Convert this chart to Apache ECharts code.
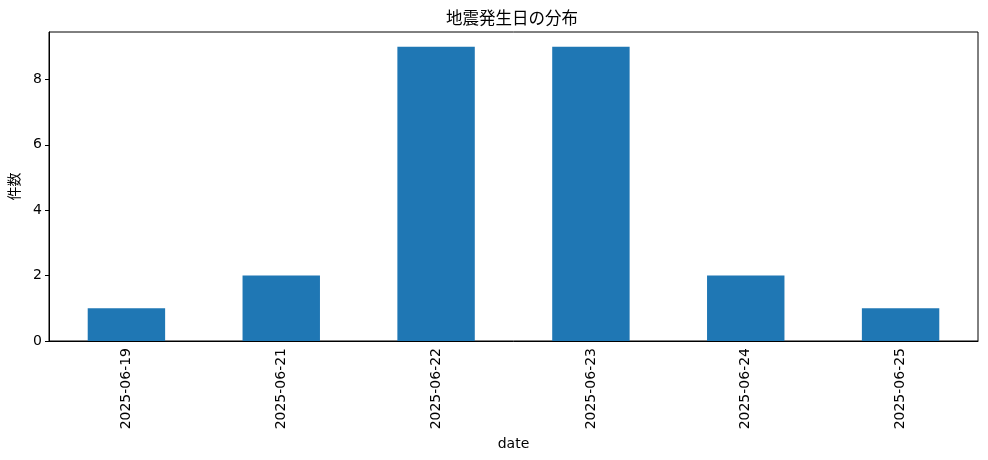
<!DOCTYPE html>
<html><head><meta charset="utf-8">
<script src="https://cdn.jsdelivr.net/npm/echarts@6/dist/echarts.min.js"></script>
<style>html,body{margin:0;padding:0;background:#fff}#c{width:988px;height:460px}</style>
</head><body><div id="c"></div>
<script>
const categories = ['2025-06-19','2025-06-21','2025-06-22','2025-06-23','2025-06-24','2025-06-25'];
const counts = [1, 2, 9, 9, 2, 1];
const yTicks = [0, 2, 4, 6, 8];
const titleText = '地震発生日の分布';
const xName = 'date';
const yName = '件数';

const font = "'DejaVu Sans', 'Noto Sans CJK JP', sans-serif";
const chart = echarts.init(document.getElementById('c'), null, {renderer:'canvas'});
chart.setOption({
  animation: false,
  title: {text: titleText, left: 441, top: 4,
    textStyle: {fontFamily: "'Noto Sans CJK JP', 'DejaVu Sans', sans-serif", fontSize: 16.5, fontWeight: 'normal', color: '#000'}},
  grid: {left: 49, right: 10, top: 32, bottom: 119, outerBoundsMode: 'none', containLabel: false,
    show: true, borderColor: '#000', borderWidth: 1, backgroundColor: 'transparent'},
  xAxis: {
    type: 'category', data: categories,
    name: xName, nameLocation: 'middle', nameGap: 93,
    nameTextStyle: {fontFamily: font, fontSize: 14, color: '#000'},
    axisLine: {lineStyle: {color: '#000', width: 1}},
    axisTick: {alignWithLabel: true, length: 4, lineStyle: {color: '#000'}},
    axisLabel: {rotate: 90, margin: 7, fontFamily: font, fontSize: 14, color: '#000'},
    splitLine: {show: false}
  },
  yAxis: {
    type: 'value', min: 0, max: 9.45, interval: 2,
    name: yName, nameLocation: 'middle', nameGap: 28,
    nameTextStyle: {fontFamily: "'Noto Sans CJK JP', sans-serif", fontSize: 14, color: '#000'},
    axisLine: {show: true, lineStyle: {color: '#000', width: 1}},
    axisTick: {show: true, length: 4, lineStyle: {color: '#000'}, customValues: yTicks},
    axisLabel: {margin: 7, fontFamily: font, fontSize: 14, color: '#000', customValues: yTicks},
    splitLine: {show: false}
  },
  series: [{type: 'bar', data: counts, barWidth: '50%', itemStyle: {color: '#1f77b4', borderWidth: 0}}]
});
</script></body></html>
